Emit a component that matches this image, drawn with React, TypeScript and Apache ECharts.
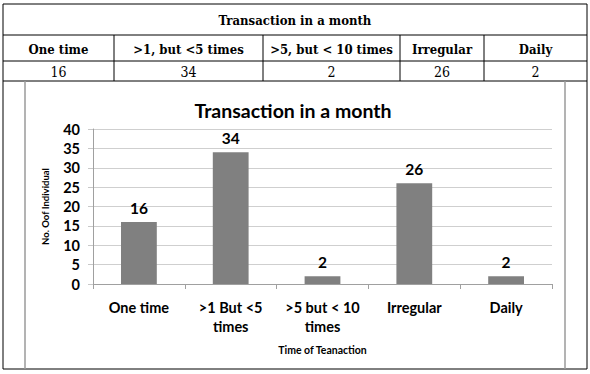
import React, { useEffect, useRef } from "react";
import * as echarts from "echarts";

const tableTitle = "Transaction in a month";
const tableHeaders = ["One time", ">1, but <5 times", ">5, but < 10 times", "Irregular", "Daily"];
const categories = ["One time", ">1 But <5\ntimes", ">5 but < 10\ntimes", "Irregular", "Daily"];
const values = [16, 34, 2, 26, 2];
const chartTitle = "Transaction in a month";
const yAxisName = "No. Oof Individual";
const xAxisName = "Time of Teanaction";

export default function App() {
  const ref = useRef<HTMLDivElement>(null);
  useEffect(() => {
    if (!ref.current) return;
    const chart = echarts.init(ref.current, null, { renderer: "svg" });

    const L = 3, R = 587, T = 4, Y1 = 35, Y2 = 61, Y3 = 81, B = 369;
    const cols = [L, 114, 263, 400, 484, R];
    const serif = "DejaVu Serif Condensed";
    const sans = "Lato";
    const black = { stroke: "#000", lineWidth: 1 };
    const lines: any[] = [];
    const hl = (y: number) => lines.push({ type: "line", shape: { x1: L, y1: y, x2: R, y2: y }, style: black, silent: true });
    [T, Y1, Y2, Y3, B].forEach(hl);
    [L, R].forEach((x) => lines.push({ type: "line", shape: { x1: x, y1: T, x2: x, y2: B }, style: black, silent: true }));
    cols.slice(1, -1).forEach((x) => lines.push({ type: "line", shape: { x1: x, y1: Y1, x2: x, y2: Y3 }, style: black, silent: true }));
    [25, 565].forEach((x) => lines.push({ type: "line", shape: { x1: x, y1: Y3, x2: x, y2: B }, style: { stroke: "#9a9a9a", lineWidth: 1.5 }, silent: true }));

    const texts: any[] = [];
    const txt = (x: number, y: number, s: string, bold: boolean, size: number) => ({
      type: "text",
      x,
      y,
      style: { text: s, fontFamily: serif, fontSize: size, fontWeight: bold ? "bold" : "normal", fill: "#000", align: "center", verticalAlign: "middle" },
    });
    texts.push(txt((L + R) / 2, (T + Y1) / 2 + 1, tableTitle, true, 13));
    tableHeaders.forEach((h, i) => {
      const cx = (cols[i] + cols[i + 1]) / 2;
      texts.push(txt(cx, (Y1 + Y2) / 2 + 1, h, true, 13));
      texts.push(txt(cx, (Y2 + Y3) / 2 + 1, String(values[i]), false, 14));
    });

    chart.setOption({
      animation: false,
      title: {
        text: chartTitle,
        left: 288,
        textAlign: "center",
        top: 95,
        textStyle: { fontFamily: sans, fontWeight: "bold", fontSize: 19.5, color: "#000" },
      },
      grid: { left: 93, right: 38, top: 129, bottom: 90 },
      xAxis: {
        type: "category",
        data: categories,
        name: xAxisName,
        nameLocation: "middle",
        nameGap: 60,
        nameTextStyle: { fontFamily: sans, fontWeight: "bold", fontSize: 10.5, color: "#000" },
        axisLine: { lineStyle: { color: "#a0a0a0" } },
        axisTick: { show: true, length: 5, lineStyle: { color: "#a0a0a0" } },
        axisLabel: { fontFamily: sans, fontWeight: "bold", fontSize: 14.5, color: "#000", margin: 14, lineHeight: 19, interval: 0 },
      },
      yAxis: {
        type: "value",
        min: 0,
        max: 40,
        interval: 5,
        name: yAxisName,
        nameLocation: "middle",
        nameGap: 43,
        nameRotate: 90,
        nameTextStyle: { fontFamily: sans, fontWeight: "bold", fontSize: 9.5, color: "#000" },
        axisLine: { show: true, lineStyle: { color: "#a0a0a0" } },
        axisTick: { show: true, length: 5, lineStyle: { color: "#c8c8c8" } },
        axisLabel: { fontFamily: sans, fontWeight: "bold", fontSize: 14.5, color: "#000", margin: 13 },
        splitLine: { lineStyle: { color: "#cfcfcf", width: 1 } },
      },
      series: [
        {
          type: "bar",
          data: values,
          barWidth: "39%",
          itemStyle: { color: "#808080" },
          label: { show: true, position: "top", distance: 6, fontFamily: sans, fontWeight: "bold", fontSize: 15.5, color: "#000" },
        },
      ],
      graphic: [...lines, ...texts],
    });
    return () => chart.dispose();
  }, []);
  return <div ref={ref} style={{ position: "absolute", left: 0, top: 0, width: 590, height: 374, background: "#fff" }} />;
}
